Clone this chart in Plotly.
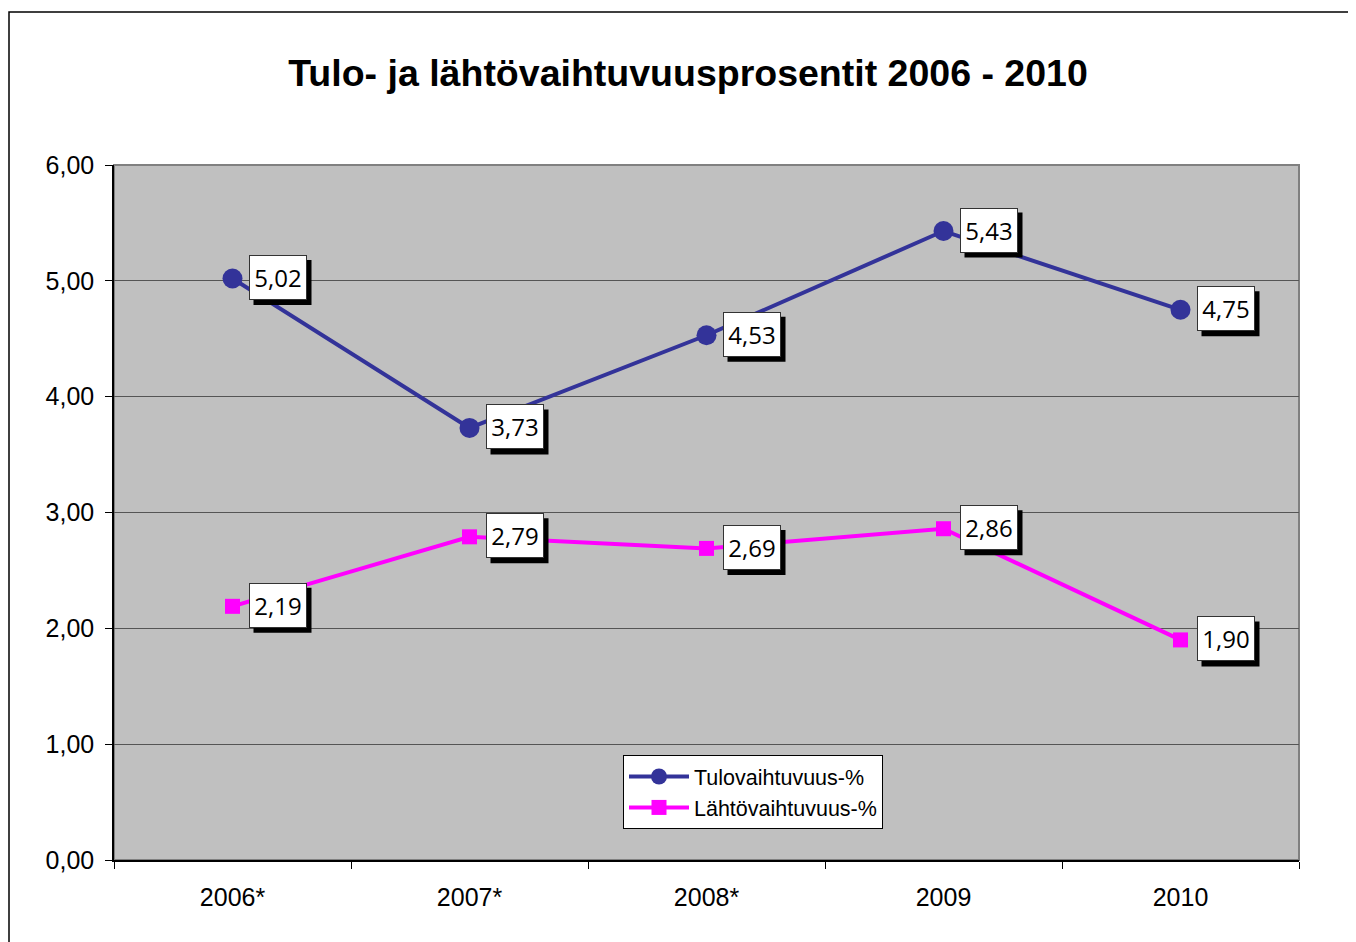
import plotly.graph_objects as go

categories = ["2006*", "2007*", "2008*", "2009", "2010"]
tulo = [5.02, 3.73, 4.53, 5.43, 4.75]
lahto = [2.19, 2.79, 2.69, 2.86, 1.90]
series_names = ["Tulovaihtuvuus-%", "Lähtövaihtuvuus-%"]
title_text = "Tulo- ja lähtövaihtuvuusprosentit 2006 - 2010"

# page body has an 8px margin, so the figure is drawn slightly smaller/offset
W, H = 1348, 934
L, R, T, B = 106, 57, 157, 82
pw, ph = W - L - R, H - T - B

fig = go.Figure()
fig.add_trace(go.Scatter(
    x=categories, y=tulo, name=series_names[0], mode="lines+markers",
    line=dict(color="#333399", width=4),
    marker=dict(symbol="circle", size=20, color="#333399"),
))
fig.add_trace(go.Scatter(
    x=categories, y=lahto, name=series_names[1], mode="lines+markers",
    line=dict(color="#FF00FF", width=4),
    marker=dict(symbol="square", size=15, color="#FF00FF"),
))

def fmt(v):
    return f"{v:.2f}".replace(".", ",")

annotations = []
shapes = [
    # plot area border (top/right grey)
    dict(type="rect", xref="paper", yref="paper", x0=0, x1=1, y0=0, y1=1,
         line=dict(color="#808080", width=2), layer="below"),
    # outer chart border
    dict(type="rect", xref="paper", yref="paper",
         x0=(1 - L) / pw, x1=(W + 10 - L) / pw,
         y0=(H - B - (H + 10)) / ph, y1=(H - B - 4) / ph,
         line=dict(color="black", width=1.5), fillcolor="rgba(0,0,0,0)"),
]
for series in (tulo, lahto):
    for i, v in enumerate(series):
        # drop shadow of the data label
        shapes.append(dict(type="rect", xref="x", yref="y",
                           xsizemode="pixel", ysizemode="pixel",
                           xanchor=i, yanchor=v,
                           x0=21, x1=79, y0=-26.5, y1=18.5,
                           fillcolor="black", line=dict(width=0), layer="above"))
        annotations.append(dict(x=i, y=v, xref="x", yref="y", showarrow=False,
                                width=54, height=41, borderpad=1, borderwidth=1,
                                align="center", valign="middle",
                                text=fmt(v), xshift=45, yshift=1,
                                bgcolor="white", bordercolor="#333333",
                                font=dict(family="Open Sans", size=24, color="black")))

fig.update_layout(
    width=W, height=H,
    margin=dict(l=L, r=R, t=T, b=B, autoexpand=False),
    paper_bgcolor="white", plot_bgcolor="#C0C0C0",
    separators=",.",
    font=dict(family="Liberation Sans, Arial", size=25, color="black"),
    title=dict(text="<b>" + title_text + "</b>", xref="container", yref="container",
               x=(688 - 8) / W, y=1 - (73 - 8) / H, xanchor="center", yanchor="middle",
               font=dict(family="Liberation Sans, Arial", size=37.5, color="black")),
    xaxis=dict(type="category", range=[-0.5, 4.5], tickson="boundaries",
               ticks="outside", ticklen=7, tickcolor="black", tickwidth=1,
               showline=True, linecolor="black", linewidth=1.5,
               showgrid=False, ticklabelstandoff=14,
               tickfont=dict(size=25)),
    yaxis=dict(range=[0, 6], dtick=1, tickformat=".2f",
               ticks="outside", ticklen=7, tickcolor="black", tickwidth=1,
               showline=True, linecolor="black", linewidth=1.5,
               showgrid=True, gridcolor="#555555", gridwidth=1, zeroline=False,
               ticklabelstandoff=6, tickfont=dict(size=25)),
    legend=dict(x=(623 - 114) / pw, y=(860 - 755) / ph, xanchor="left", yanchor="top",
                bgcolor="white", bordercolor="black", borderwidth=1,
                font=dict(family="Liberation Sans, Arial", size=21.5),
                itemwidth=60, tracegroupgap=0),
    showlegend=True,
    annotations=annotations,
    shapes=shapes,
)

fig.write_html("out.html")
